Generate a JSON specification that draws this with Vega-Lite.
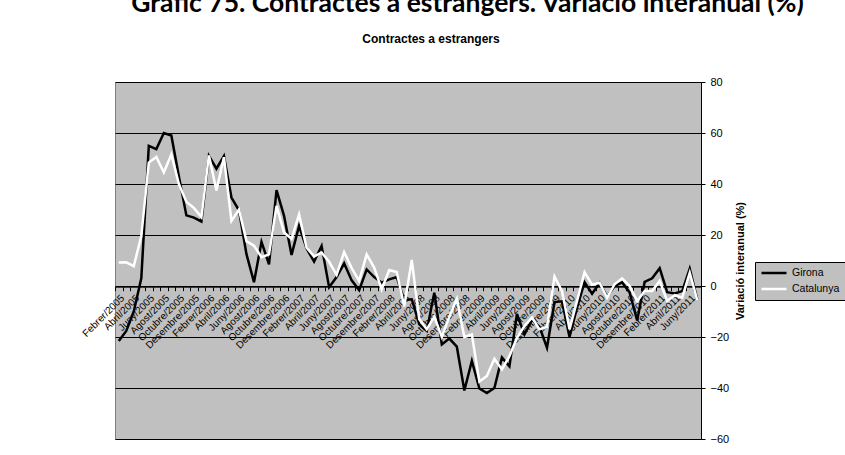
{
  "$schema": "https://vega.github.io/schema/vega-lite/v6.json",
  "autosize": "none",
  "padding": {"left": 115, "top": 82, "right": 144, "bottom": 16},
  "width": 586,
  "height": 357,
  "background": "white",
  "title": {"text": "Contractes a estrangers", "font": "Liberation Sans", "fontSize": 12, "fontWeight": "bold", "color": "black", "anchor": "middle", "dx": 23, "offset": 35, "dy": 99, "baseline": "alphabetic"},
  "data": {"values": [
    {"mes": "Febrer/2005", "Girona": -21.6, "Catalunya": 9.2},
    {"mes": "Març/2005", "Girona": -17.6, "Catalunya": 9.3},
    {"mes": "Abril/2005", "Girona": -10, "Catalunya": 7.8},
    {"mes": "Maig/2005", "Girona": 3, "Catalunya": 19.6},
    {"mes": "Juny/2005", "Girona": 55, "Catalunya": 48.4},
    {"mes": "Juliol/2005", "Girona": 53.7, "Catalunya": 50.6},
    {"mes": "Agost/2005", "Girona": 60, "Catalunya": 44.5},
    {"mes": "Setembre/2005", "Girona": 59, "Catalunya": 51.6},
    {"mes": "Octubre/2005", "Girona": 43, "Catalunya": 40},
    {"mes": "Novembre/2005", "Girona": 27.7, "Catalunya": 33},
    {"mes": "Desembre/2005", "Girona": 26.8, "Catalunya": 30.6},
    {"mes": "Gener/2006", "Girona": 25.3, "Catalunya": 27},
    {"mes": "Febrer/2006", "Girona": 51, "Catalunya": 51.2},
    {"mes": "Març/2006", "Girona": 46, "Catalunya": 37.5},
    {"mes": "Abril/2006", "Girona": 51, "Catalunya": 50.5},
    {"mes": "Maig/2006", "Girona": 34.7, "Catalunya": 25.5},
    {"mes": "Juny/2006", "Girona": 29.7, "Catalunya": 30},
    {"mes": "Juliol/2006", "Girona": 12.5, "Catalunya": 17.6},
    {"mes": "Agost/2006", "Girona": 1.5, "Catalunya": 15.8},
    {"mes": "Setembre/2006", "Girona": 17.3, "Catalunya": 11.3},
    {"mes": "Octubre/2006", "Girona": 8.5, "Catalunya": 12.4},
    {"mes": "Novembre/2006", "Girona": 37.6, "Catalunya": 31.4},
    {"mes": "Desembre/2006", "Girona": 27.5, "Catalunya": 21},
    {"mes": "Gener/2007", "Girona": 12.2, "Catalunya": 18.5},
    {"mes": "Febrer/2007", "Girona": 23.6, "Catalunya": 28.1},
    {"mes": "Març/2007", "Girona": 14.7, "Catalunya": 15},
    {"mes": "Abril/2007", "Girona": 9.6, "Catalunya": 11.6},
    {"mes": "Maig/2007", "Girona": 15.7, "Catalunya": 13.1},
    {"mes": "Juny/2007", "Girona": -0.5, "Catalunya": 9.5},
    {"mes": "Juliol/2007", "Girona": 3.5, "Catalunya": 4.4},
    {"mes": "Agost/2007", "Girona": 8.9, "Catalunya": 13.3},
    {"mes": "Setembre/2007", "Girona": 2.2, "Catalunya": 7},
    {"mes": "Octubre/2007", "Girona": -1.6, "Catalunya": 2},
    {"mes": "Novembre/2007", "Girona": 6.5, "Catalunya": 12.4},
    {"mes": "Desembre/2007", "Girona": 3.5, "Catalunya": 7.2},
    {"mes": "Gener/2008", "Girona": 1.3, "Catalunya": -1.3},
    {"mes": "Febrer/2008", "Girona": 2.6, "Catalunya": 6.3},
    {"mes": "Març/2008", "Girona": 3.5, "Catalunya": 5.5},
    {"mes": "Abril/2008", "Girona": -5.5, "Catalunya": -8},
    {"mes": "Maig/2008", "Girona": -5.2, "Catalunya": 10.2},
    {"mes": "Juny/2008", "Girona": -15, "Catalunya": -13},
    {"mes": "Juliol/2008", "Girona": -17.6, "Catalunya": -17},
    {"mes": "Agost/2008", "Girona": -2.6, "Catalunya": -12},
    {"mes": "Setembre/2008", "Girona": -22.9, "Catalunya": -20},
    {"mes": "Octubre/2008", "Girona": -20.6, "Catalunya": -12},
    {"mes": "Novembre/2008", "Girona": -23.8, "Catalunya": -5},
    {"mes": "Desembre/2008", "Girona": -41, "Catalunya": -20},
    {"mes": "Gener/2009", "Girona": -29.4, "Catalunya": -19},
    {"mes": "Febrer/2009", "Girona": -40.2, "Catalunya": -37.5},
    {"mes": "Març/2009", "Girona": -42, "Catalunya": -35.3},
    {"mes": "Abril/2009", "Girona": -40, "Catalunya": -28.5},
    {"mes": "Maig/2009", "Girona": -28, "Catalunya": -32.7},
    {"mes": "Juny/2009", "Girona": -31.5, "Catalunya": -27.5},
    {"mes": "Juliol/2009", "Girona": -11, "Catalunya": -20.3},
    {"mes": "Agost/2009", "Girona": -19, "Catalunya": -15.7},
    {"mes": "Setembre/2009", "Girona": -13.3, "Catalunya": -12.4},
    {"mes": "Octubre/2009", "Girona": -16, "Catalunya": -17},
    {"mes": "Novembre/2009", "Girona": -24.2, "Catalunya": -16},
    {"mes": "Desembre/2009", "Girona": -6.3, "Catalunya": 3.7},
    {"mes": "Gener/2010", "Girona": -6, "Catalunya": -2},
    {"mes": "Febrer/2010", "Girona": -20, "Catalunya": -17},
    {"mes": "Març/2010", "Girona": -8.5, "Catalunya": -5.9},
    {"mes": "Abril/2010", "Girona": 1.5, "Catalunya": 5.4},
    {"mes": "Maig/2010", "Girona": -3, "Catalunya": 0.5},
    {"mes": "Juny/2010", "Girona": 1.2, "Catalunya": 1.3},
    {"mes": "Juliol/2010", "Girona": -4.2, "Catalunya": -4.6},
    {"mes": "Agost/2010", "Girona": 0, "Catalunya": 0.7},
    {"mes": "Setembre/2010", "Girona": 1.4, "Catalunya": 3},
    {"mes": "Octubre/2010", "Girona": -2.5, "Catalunya": 0},
    {"mes": "Novembre/2010", "Girona": -13.5, "Catalunya": -5.9},
    {"mes": "Desembre/2010", "Girona": 1.6, "Catalunya": -2},
    {"mes": "Gener/2011", "Girona": 3, "Catalunya": -2},
    {"mes": "Febrer/2011", "Girona": 7, "Catalunya": 2},
    {"mes": "Març/2011", "Girona": -2.4, "Catalunya": -5.9},
    {"mes": "Abril/2011", "Girona": -2.9, "Catalunya": -3.6},
    {"mes": "Maig/2011", "Girona": -2, "Catalunya": -4.6},
    {"mes": "Juny/2011", "Girona": 6.8, "Catalunya": 5.2},
    {"mes": "Juliol/2011", "Girona": -5.2, "Catalunya": -5.5}
  ]},
  "transform": [{"fold": ["Girona", "Catalunya"], "as": ["serie", "valor"]}],
  "mark": {"type": "line", "strokeWidth": 2.5, "strokeJoin": "miter"},
  "encoding": {
    "x": {
      "field": "mes", "type": "ordinal", "sort": null,
      "scale": {"type": "band", "paddingInner": 0, "paddingOuter": 0},
      "axis": {
        "orient": "bottom", "offset": -152.3,
        "tickBand": "extent", "tickSize": 4, "tickColor": "black", "domainColor": "black", "domainWidth": 1,
        "labelAngle": -45, "labelAlign": "right", "labelBaseline": "top", "labelPadding": 2,
        "labelFont": "Liberation Sans", "labelFontSize": 10, "labelColor": "black",
        "labelOverlap": false, "labelBound": false,
        "labelExpr": "test(/^(Febrer|Abril|Juny|Agost|Octubre|Desembre)/, datum.value) ? datum.label : ''",
        "title": "Gràfic 75. Contractes a estrangers. Variació interanual (%)",
        "titleFont": "Lato", "titleFontSize": 26.5, "titleFontWeight": "bold", "titleColor": "black",
        "titleX": 352, "titleY": -275, "titleAlign": "center", "titleBaseline": "alphabetic", "titleAngle": 0
      }
    },
    "y": {
      "field": "valor", "type": "quantitative",
      "scale": {"domain": [-60, 80], "nice": false},
      "axis": {
        "orient": "right", "values": [-60, -40, -20, 0, 20, 40, 60, 80],
        "grid": true, "gridColor": "black", "gridWidth": 1, "gridOpacity": 1,
        "domainColor": "black", "tickColor": "black", "tickSize": 4,
        "labelFont": "Liberation Sans", "labelFontSize": 11, "labelColor": "black", "labelPadding": 5,
        "title": "Variació interanual (%)", "titleAngle": -90, "titleFont": "Liberation Sans", "titleFontSize": 11,
        "titleFontWeight": "bold", "titleColor": "black", "titlePadding": 17
      }
    },
    "color": {
      "field": "serie", "type": "nominal",
      "scale": {"domain": ["Girona", "Catalunya"], "range": ["#000000", "#ffffff"]},
      "legend": {
        "title": null, "orient": "none", "legendX": 640, "legendY": 180,
        "fillColor": "#c0c0c0", "strokeColor": "black", "padding": 5,
        "symbolType": "stroke", "symbolSize": 625, "symbolStrokeWidth": 2.5,
        "clipHeight": 12, "rowPadding": 4, "labelOffset": 4,
        "labelFont": "Liberation Sans", "labelFontSize": 10.5, "labelColor": "black"
      }
    }
  },
  "config": {"view": {"fill": "#c0c0c0", "stroke": "#808080", "strokeWidth": 1}}
}
